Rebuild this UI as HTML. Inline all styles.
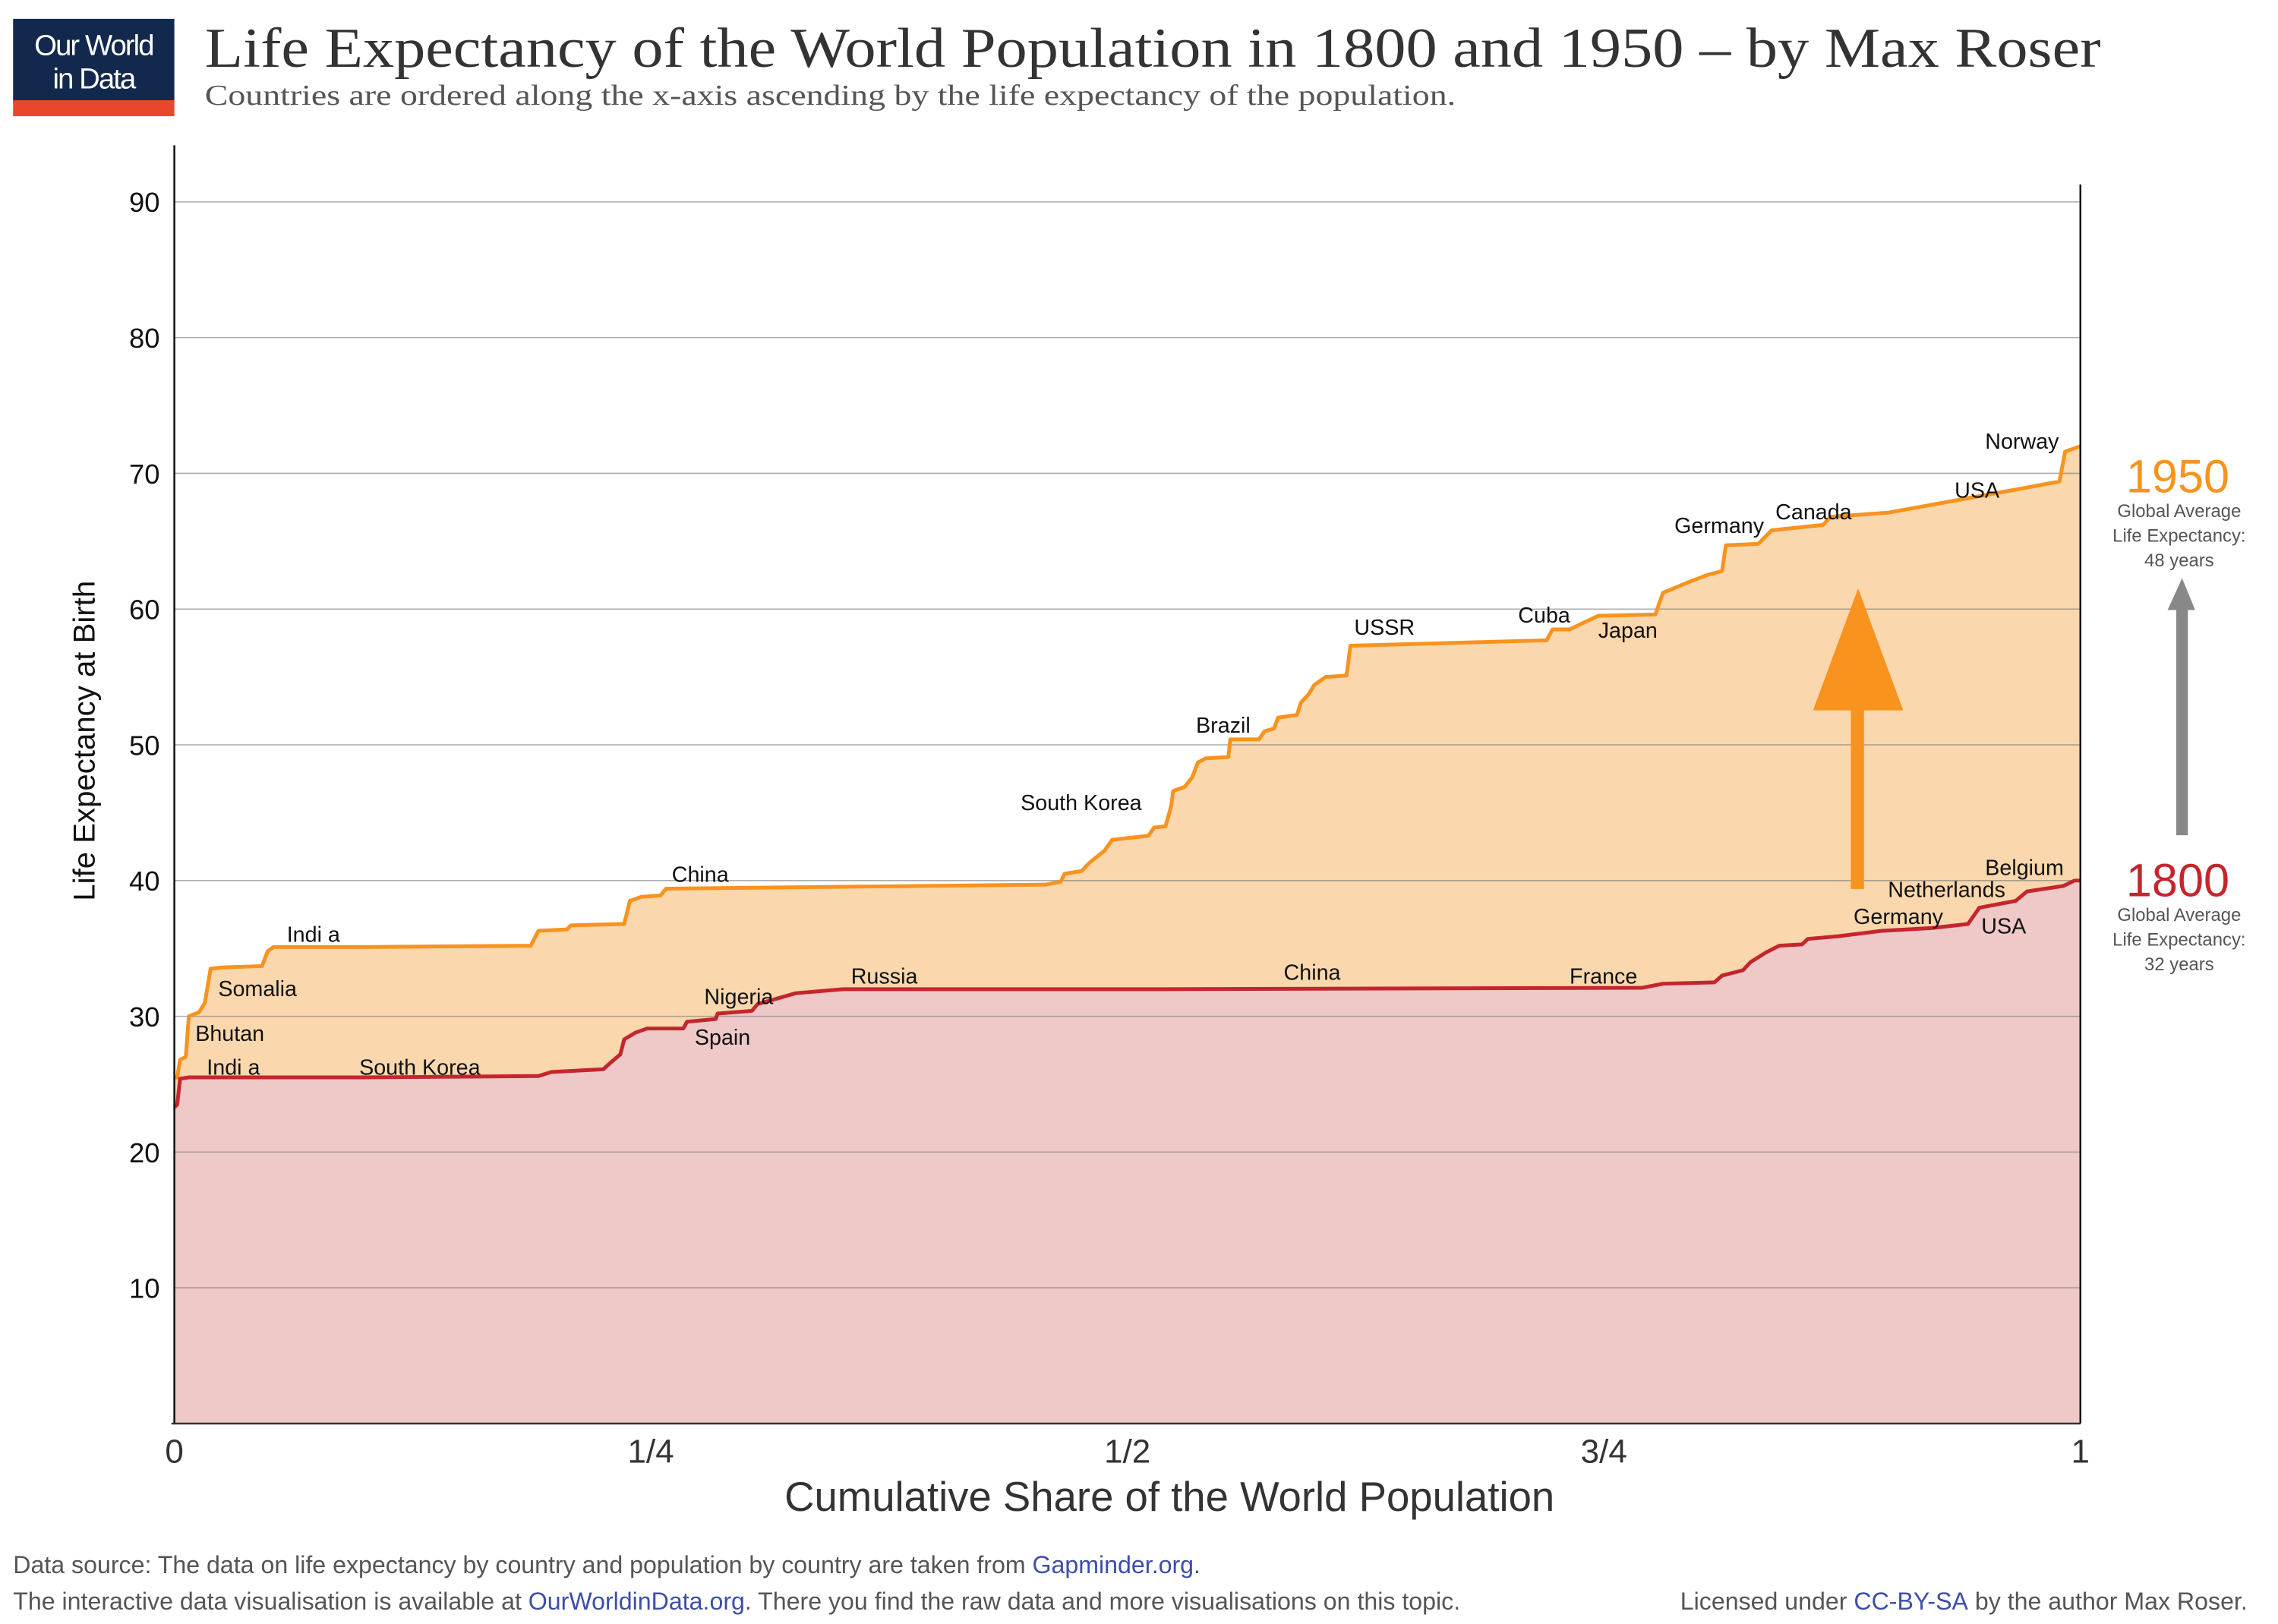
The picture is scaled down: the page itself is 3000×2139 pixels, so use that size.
<!DOCTYPE html>
<html><head><meta charset="utf-8">
<style>
html,body{margin:0;padding:0;background:#fff;}
svg{display:block;}
.lbl{font-family:"Liberation Sans",sans-serif;font-size:15px;fill:#111;}
</style></head>
<body>
<svg id="chart" width="3000" height="2139" viewBox="0 0 1568 1118" xmlns="http://www.w3.org/2000/svg">
  <g>
    <rect x="9" y="13" width="111" height="58" fill="#12294d"/>
    <rect x="9" y="69" width="111" height="11" fill="#e8472b"/>
    <text x="64.5" y="38" text-anchor="middle" font-family="Liberation Sans, sans-serif" font-size="20" fill="#fff" letter-spacing="-1">Our World</text>
    <text x="64.5" y="61" text-anchor="middle" font-family="Liberation Sans, sans-serif" font-size="20" fill="#fff" letter-spacing="-1">in Data</text>
  </g>
  <text x="141" y="46" font-family="Liberation Serif, serif" font-size="39" fill="#333" textLength="1305" lengthAdjust="spacingAndGlyphs">Life Expectancy of the World Population in 1800 and 1950 – by Max Roser</text>
  <text x="141" y="72" font-family="Liberation Serif, serif" font-size="20" fill="#555" textLength="861" lengthAdjust="spacingAndGlyphs">Countries are ordered along the x-axis ascending by the life expectancy of the population.</text>

  <g id="fills"></g>
  <g id="grid"></g>
  <g id="lines"></g>
  <g id="axes"></g>
  <g id="annot"></g>

  <g>
    <rect x="1274" y="486" width="9" height="126" fill="#f7931e"/>
    <polygon points="1248,489 1310,489 1279,405" fill="#f7931e"/>
  </g>
  <g font-family="Liberation Sans, sans-serif" text-anchor="middle">
    <text x="1499" y="339" font-size="32" fill="#f7931e">1950</text>
    <text x="1500" y="356" font-size="12.5" fill="#555">Global Average</text>
    <text x="1500" y="373" font-size="12.5" fill="#555">Life Expectancy:</text>
    <text x="1500" y="390" font-size="12.5" fill="#555">48 years</text>
    <rect x="1498" y="415" width="8" height="160" fill="#888"/>
    <polygon points="1492,420 1511,420 1502,398" fill="#888"/>
    <text x="1499" y="617" font-size="32" fill="#c4262e">1800</text>
    <text x="1500" y="634" font-size="12.5" fill="#555">Global Average</text>
    <text x="1500" y="651" font-size="12.5" fill="#555">Life Expectancy:</text>
    <text x="1500" y="668" font-size="12.5" fill="#555">32 years</text>
  </g>

  <text transform="translate(65,510) rotate(-90)" text-anchor="middle" font-family="Liberation Sans, sans-serif" font-size="21" fill="#111">Life Expectancy at Birth</text>
  <text x="805" y="1040" text-anchor="middle" font-family="Liberation Sans, sans-serif" font-size="28.5" fill="#333">Cumulative Share of the World Population</text>

  <g font-family="Liberation Sans, sans-serif" font-size="16.8" fill="#555">
    <text x="9" y="1083">Data source: The data on life expectancy by country and population by country are taken from <tspan fill="#3d4ea8">Gapminder.org</tspan>.</text>
    <text x="9" y="1108">The interactive data visualisation is available at <tspan fill="#3d4ea8">OurWorldinData.org</tspan>. There you find the raw data and more visualisations on this topic.</text>
    <text x="1547" y="1108" text-anchor="end">Licensed under <tspan fill="#3d4ea8">CC-BY-SA</tspan> by the author Max Roser.</text>
  </g>
</svg>
<script>
// Data: cumulative share of world population (%) and life expectancy (years)
const share1950 = [0,0.15,0.3,0.6,0.76,1.3,1.6,1.9,2.5,4.6,4.9,5.2,9.9,18.7,19.1,20.6,20.8,23.6,23.9,24.5,25.5,25.8,45.7,46.5,46.7,47.6,48.0,48.8,49.2,51.1,51.4,52.0,52.3,52.4,53.0,53.4,53.7,54.1,55.3,55.4,56.9,57.2,57.7,57.9,58.9,59.1,59.5,59.8,60.4,61.5,61.7,72.0,72.3,73.2,74.7,77.7,78.1,79.3,80.4,81.2,81.4,83.1,83.8,86.5,86.9,89.9,96.6,98.9,99.2,100];
const life1950 = [25.5,25.5,26.8,27,30,30.3,31,33.5,33.6,33.7,34.8,35.1,35.1,35.2,36.3,36.4,36.7,36.8,38.5,38.8,38.9,39.4,39.7,39.9,40.5,40.7,41.3,42.2,43,43.3,43.9,44.0,45.5,46.6,46.9,47.6,48.7,49,49.1,50.4,50.4,51,51.2,52,52.2,53.1,53.7,54.4,55,55.1,57.3,57.7,58.5,58.5,59.5,59.6,61.2,61.9,62.5,62.8,64.7,64.8,65.8,66.2,66.8,67.1,68.8,69.4,71.6,72];
const share1800 = [0,0.15,0.3,0.76,9.9,19.1,19.8,22.5,22.9,23.4,23.6,24.2,24.8,26.7,26.9,28.4,28.5,30.3,30.6,31.6,32.6,35.1,51.8,77.0,78.1,80.8,81.2,82.3,82.7,83.5,84.2,85.4,85.7,87.3,89.6,92.2,94.1,94.7,96.6,97.2,99.1,99.7,100];
const life1800 = [23.3,23.5,25.4,25.5,25.5,25.6,25.9,26.1,26.6,27.2,28.3,28.8,29.1,29.1,29.6,29.8,30.2,30.4,30.9,31.3,31.7,32,32,32.1,32.4,32.5,33,33.4,34,34.7,35.2,35.3,35.7,35.9,36.3,36.5,36.8,38,38.5,39.2,39.6,40,40];
const yTicks = [10,20,30,40,50,60,70,80,90];
const xTickVals = [0,25,50,75,100];
const xTickLabels = ["0","1/4","1/2","3/4","1"];
const labelNames = ["Norway","USA","Canada","Germany","Japan","Cuba","USSR","Brazil","South Korea","China","Indi a","Somalia","Bhutan","Indi a","South Korea","Nigeria","Spain","Russia","China","France","Germany","Netherlands","Belgium","USA"];
const labelShare = [95.0,93.4,84.0,78.7,74.7,70.5,61.9,53.6,44.4,26.1,5.9,2.3,1.1,1.7,9.7,27.8,27.3,35.5,58.2,73.2,88.1,89.9,95.0,94.8];
const labelLife = [71.8,68.2,66.6,65.6,57.9,59.0,58.1,50.9,45.2,39.9,35.5,31.5,28.2,25.7,25.7,30.9,27.9,32.4,32.7,32.4,36.8,38.8,40.4,36.1];

const NS="http://www.w3.org/2000/svg";
const X0=120, X1=1432, Y0=980, YPU=9.345;
const xs = s => X0 + s/100*(X1-X0);
const ys = v => Y0 - v*YPU;
function mk(tag, attrs, parent){const e=document.createElementNS(NS,tag);for(const k in attrs)e.setAttribute(k,attrs[k]);parent.appendChild(e);return e;}
function linePath(sh, lv){return sh.map((s,i)=>(i?'L':'M')+xs(s).toFixed(2)+','+ys(lv[i]).toFixed(2)).join(' ');}
function areaPath(sh, lv){return linePath(sh,lv)+' L'+xs(100)+','+Y0+' L'+xs(0)+','+Y0+' Z';}

const fills=document.getElementById('fills');
const a50=mk('path',{d:areaPath(share1950,life1950),fill:'#fad7ad'},fills);


const a18=mk('path',{d:areaPath(share1800,life1800),fill:'#efc8c8'},fills);



const grid=document.getElementById('grid');
yTicks.forEach(v=>{
  const l=mk('line',{x1:X0,x2:X1,y1:ys(v),y2:ys(v),stroke:'#777','stroke-opacity':0.6,'stroke-width':0.8},grid);
  
  
  const t=mk('text',{x:110,y:ys(v)+7,'text-anchor':'end','font-family':'Liberation Sans, sans-serif','font-size':19,fill:'#111'},grid);
  t.textContent=v;
  
  
});

const lines=document.getElementById('lines');
const l50=mk('path',{d:linePath(share1950,life1950),fill:'none',stroke:'#f7931e','stroke-width':2.6,'stroke-linejoin':'round'},lines);


const l18=mk('path',{d:linePath(share1800,life1800),fill:'none',stroke:'#c4262e','stroke-width':2.6,'stroke-linejoin':'round'},lines);



const axes=document.getElementById('axes');
const ya=mk('line',{x1:X0,x2:X0,y1:100,y2:Y0,stroke:'#111','stroke-width':1.3},axes);


const ra=mk('line',{x1:X1,x2:X1,y1:127,y2:Y0,stroke:'#111','stroke-width':1.3},axes);


const xa=mk('line',{x1:X0-2,x2:X1,y1:Y0,y2:Y0,stroke:'#333','stroke-width':1.3},axes);


xTickVals.forEach((v,i)=>{
  const t=mk('text',{x:xs(v),y:1007,'text-anchor':'middle','font-family':'Liberation Sans, sans-serif','font-size':23,fill:'#333'},axes);
  t.textContent=xTickLabels[i];
  
  
});

const annot=document.getElementById('annot');
labelNames.forEach((n,i)=>{
  const t=mk('text',{x:xs(labelShare[i]),y:ys(labelLife[i]),'text-anchor':'start',class:'lbl'},annot);
  t.textContent=n;
  
  
});
</script>
</body></html>
